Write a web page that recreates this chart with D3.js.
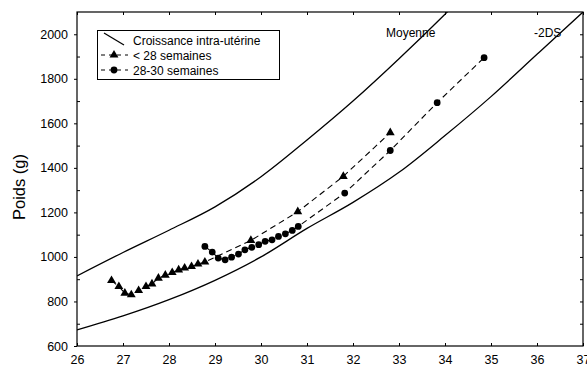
<!DOCTYPE html>
<html>
<head>
<meta charset="utf-8">
<script src="https://cdn.jsdelivr.net/npm/d3@7"></script>
<style>
  html, body { margin: 0; padding: 0; background: #fff; }
  svg { display: block; font-family: "Liberation Sans", Arial, sans-serif; }
</style>
</head>
<body>
<div id="chart"></div>
<script>
// growth reference curves (weeks -> grams)
const refAges = [26, 27, 28, 29, 30, 31, 32, 33, 34, 35, 36, 37];
const moyenne = [915, 1020, 1120, 1225, 1360, 1525, 1700, 1890, 2090, 2300, 2520, 2750];
const moins2DS = [672, 735, 808, 895, 1000, 1128, 1245, 1380, 1545, 1720, 1910, 2100];

// < 28 semaines
const agesA = [26.75, 26.91, 27.04, 27.18, 27.34, 27.5, 27.63, 27.77, 27.92, 28.07, 28.21, 28.34, 28.49, 28.63, 28.78, 29.78, 30.8, 31.79, 32.81];
const poidsA = [894, 867, 837, 830, 849, 867, 879, 905, 918, 930, 942, 950, 957, 968, 977, 1074, 1203, 1362, 1558];

// 28-30 semaines
const agesB = [28.78, 28.94, 29.07, 29.22, 29.36, 29.51, 29.65, 29.8, 29.95, 30.09, 30.24, 30.38, 30.53, 30.68, 30.81, 31.82, 32.81, 33.83, 34.85];
const poidsB = [1047, 1022, 995, 987, 999, 1013, 1032, 1043, 1055, 1070, 1077, 1092, 1104, 1119, 1137, 1287, 1478, 1693, 1895];

const xTicks = d3.range(26, 38);
const yTicks = d3.range(600, 2001, 200);
const yMinor = d3.range(700, 2100, 200);
const legendLabels = ["Croissance intra-utérine", "< 28 semaines", "28-30 semaines"];

const W = 587, H = 367;
const margin = { left: 77, right: 4, top: 12, bottom: 21 };

const svg = d3.select("#chart").append("svg")
    .attr("width", W)
    .attr("height", H);

const x = d3.scaleLinear().domain([26, 37]).range([margin.left, W - margin.right]);
const y = d3.scaleLinear().domain([600, 2100]).range([H - margin.bottom, margin.top]);

svg.append("defs").append("clipPath").attr("id", "plot")
    .append("rect")
    .attr("x", x(26)).attr("y", y(2100))
    .attr("width", x(37) - x(26)).attr("height", y(600) - y(2100));

// frame
svg.append("rect")
    .attr("x", x(26)).attr("y", y(2100))
    .attr("width", x(37) - x(26)).attr("height", y(600) - y(2100))
    .attr("fill", "none").attr("stroke", "#000").attr("stroke-width", 1.2);

// axes
const xAxis = svg.append("g")
    .attr("transform", `translate(0,${y(600)})`)
    .call(d3.axisBottom(x).tickValues(xTicks).tickSize(-3).tickPadding(9).tickFormat(d3.format("d")));
const xTop = svg.append("g")
    .attr("transform", `translate(0,${y(2100)})`)
    .call(d3.axisTop(x).tickValues(xTicks).tickSize(-3).tickFormat(""));
const yAxis = svg.append("g")
    .attr("transform", `translate(${x(26)},0)`)
    .call(d3.axisLeft(y).tickValues(yTicks).tickSize(3).tickPadding(6).tickFormat(d3.format("d")));
const yMin = svg.append("g")
    .attr("transform", `translate(${x(26)},0)`)
    .call(d3.axisLeft(y).tickValues(yMinor).tickSize(-3).tickFormat(""));
const yRight = svg.append("g")
    .attr("transform", `translate(${x(37)},0)`)
    .call(d3.axisRight(y).tickValues(d3.range(700, 2100, 100)).tickSize(-3).tickFormat(""));

[xAxis, xTop, yAxis, yMin, yRight].forEach(a => {
    a.select(".domain").remove();
    a.selectAll("line").attr("stroke", "#000");
    a.selectAll("text").attr("fill", "#000").style("font-size", "12.5px");
});

svg.append("text")
    .attr("transform", `translate(25,${(y(600) + y(2100)) / 2 + 8}) rotate(-90)`)
    .attr("text-anchor", "middle")
    .style("font-size", "16.5px")
    .text("Poids (g)");

const plot = svg.append("g").attr("clip-path", "url(#plot)");

const line = d3.line().x(d => x(d[0])).y(d => y(d[1]));
const smooth = d3.line().curve(d3.curveMonotoneX).x(d => x(d[0])).y(d => y(d[1]));

// reference curves
[moyenne, moins2DS].forEach(vals => {
    plot.append("path")
        .datum(refAges.map((a, i) => [a, vals[i]]))
        .attr("d", smooth)
        .attr("fill", "none")
        .attr("stroke", "#000")
        .attr("stroke-width", 1.3);
});

svg.append("text").attr("x", 386).attr("y", 37).style("font-size", "12px").text("Moyenne");
svg.append("text").attr("x", 534).attr("y", 37).style("font-size", "12px").text("-2DS");

// series
const tri = d3.symbol().type(d3.symbolTriangle).size(34);
const dot = d3.symbol().type(d3.symbolCircle).size(36);

function drawSeries(ages, poids, sym) {
    const pts = ages.map((a, i) => [a, poids[i]]);
    plot.append("path")
        .datum(pts)
        .attr("d", line)
        .attr("fill", "none")
        .attr("stroke", "#000")
        .attr("stroke-width", 1.1)
        .attr("stroke-dasharray", "6,4");
    plot.selectAll(null)
        .data(pts)
        .enter()
        .append("path")
        .attr("d", sym)
        .attr("transform", d => `translate(${x(d[0])},${y(d[1])})`)
        .attr("fill", "#000");
}
drawSeries(agesA, poidsA, tri);
drawSeries(agesB, poidsB, dot);

// legend
const lg = svg.append("g");
lg.append("rect")
    .attr("x", 97.5).attr("y", 30.5).attr("width", 182).attr("height", 49)
    .attr("fill", "#fff").attr("stroke", "#000").attr("stroke-width", 1);
lg.append("line")
    .attr("x1", 104).attr("y1", 33).attr("x2", 124).attr("y2", 45)
    .attr("stroke", "#000").attr("stroke-width", 1.2);
const rowsY = [40, 55, 70];
[tri, dot].forEach((s, i) => {
    lg.append("line")
        .attr("x1", 100).attr("x2", 128)
        .attr("y1", rowsY[i + 1]).attr("y2", rowsY[i + 1])
        .attr("stroke", "#000").attr("stroke-dasharray", "4,4").attr("stroke-dashoffset", -1);
    lg.append("path").attr("d", s).attr("transform", `translate(114,${rowsY[i + 1]})`).attr("fill", "#000");
});
legendLabels.forEach((t, i) => {
    lg.append("text")
        .attr("x", 133).attr("y", rowsY[i] + 4.5)
        .style("font-size", "12px")
        .text(t);
});
</script>
</body>
</html>
